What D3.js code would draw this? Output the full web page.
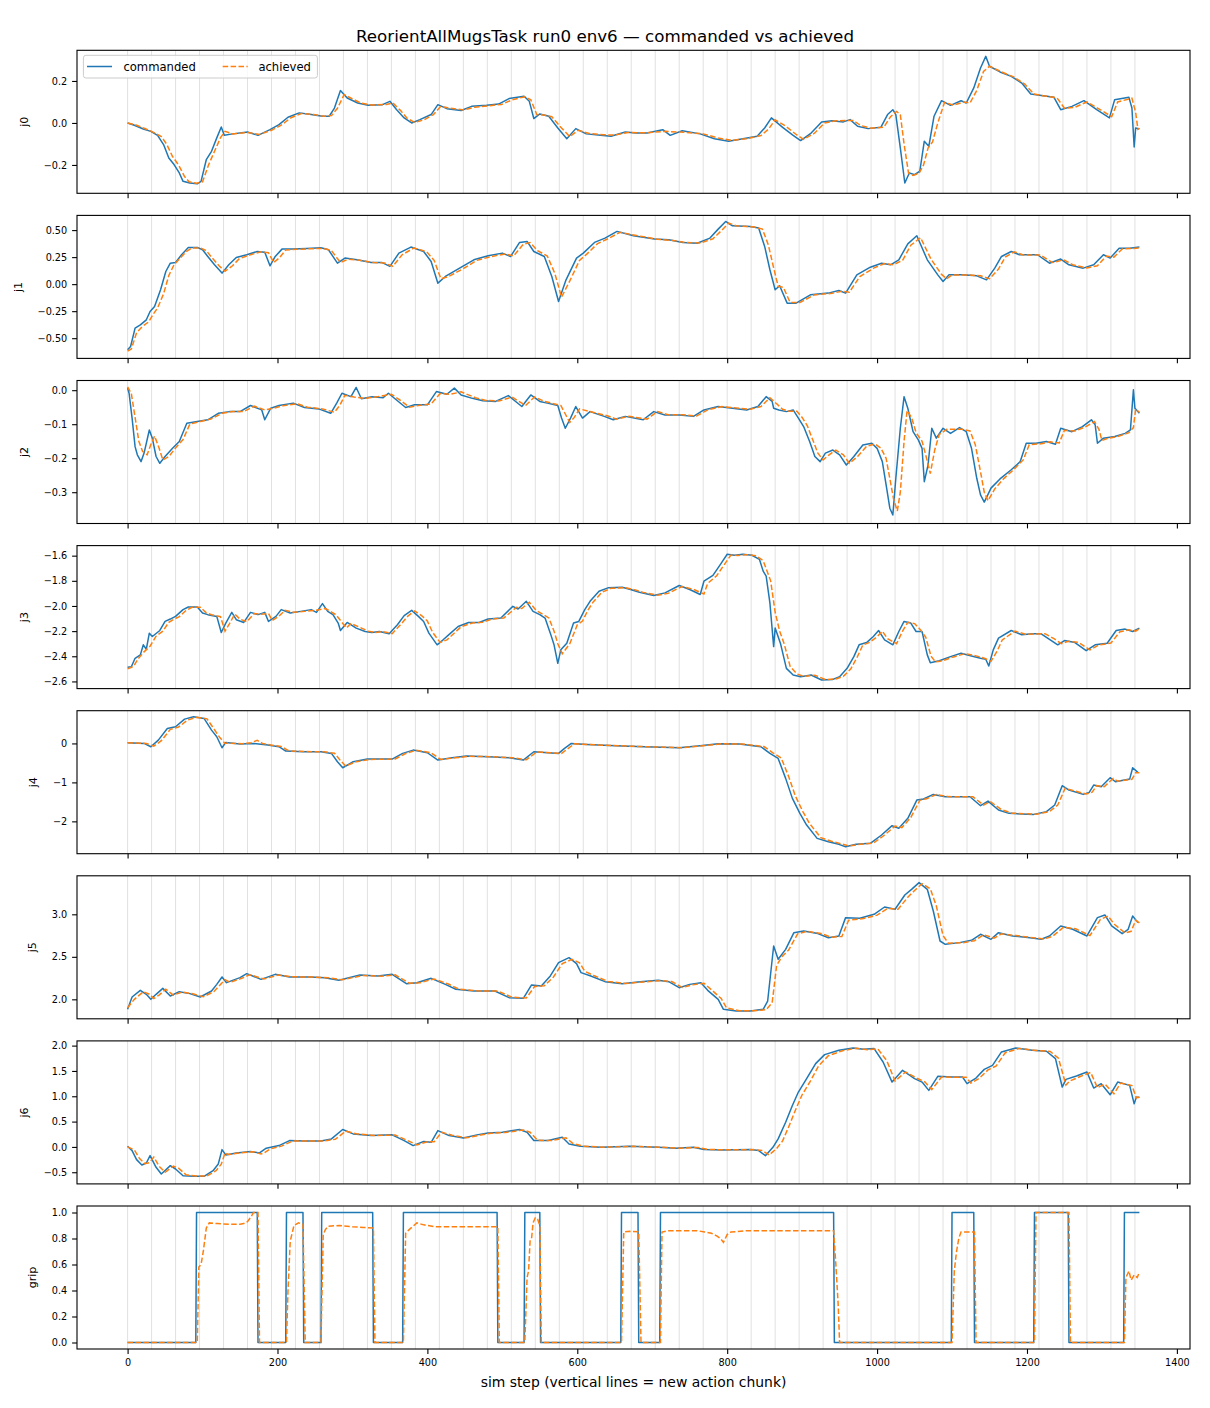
<!DOCTYPE html>
<html><head><meta charset="utf-8">
<script src="https://cdn.jsdelivr.net/npm/d3@7"></script>
<style>body{margin:0;background:#fff}text{font-family:"DejaVu Sans",sans-serif}</style>
</head><body>
<svg id="c" width="1210" height="1408"></svg>
<script>
// ---------- data (sim step, value) ----------
const title = "ReorientAllMugsTask run0 env6 — commanded vs achieved";
const xLabel = "sim step (vertical lines = new action chunk)";
const seriesNames = ["commanded", "achieved"];
const jointNames = ["j0","j1","j2","j3","j4","j5","j6","grip"];
const xTicks = [0,200,400,600,800,1000,1200,1400];
const chunkStarts = [0,32,64,96,128,160,192,224,256,288,320,352,384,416,448,480,512,544,576,608,640,672,704,736,768,800,832,864,896,928,960,992,1024,1056,1088,1120,1152,1184,1216,1248,1280,1312,1344];

const j0_cmd = [[0,0.0],[9,-0.011],[21,-0.029],[31,-0.04],[40,-0.059],[48,-0.103],[55,-0.167],[62,-0.198],[69,-0.238],[74,-0.278],[83,-0.286],[93,-0.29],[98,-0.278],[105,-0.175],[112,-0.135],[119,-0.071],[125,-0.019],[129,-0.059],[140,-0.052],[160,-0.043],[174,-0.059],[190,-0.032],[202,-0.008],[214,0.027],[229,0.048],[245,0.04],[260,0.032],[269,0.032],[276,0.071],[284,0.154],[293,0.119],[307,0.095],[321,0.084],[340,0.087],[350,0.103],[359,0.063],[369,0.024],[379,0.0],[390,0.016],[405,0.04],[414,0.087],[426,0.068],[445,0.059],[459,0.079],[479,0.084],[495,0.09],[509,0.116],[529,0.127],[536,0.103],[542,0.021],[550,0.043],[562,0.032],[574,-0.024],[586,-0.075],[598,-0.027],[612,-0.052],[631,-0.059],[645,-0.063],[664,-0.043],[678,-0.048],[693,-0.048],[714,-0.032],[724,-0.059],[740,-0.037],[764,-0.052],[783,-0.075],[802,-0.087],[821,-0.075],[840,-0.063],[850,-0.024],[859,0.024],[874,-0.021],[888,-0.059],[898,-0.084],[912,-0.048],[926,0.005],[940,0.011],[955,0.005],[964,0.016],[974,-0.016],[988,-0.027],[1005,-0.021],[1014,0.04],[1021,0.063],[1025,0.04],[1031,-0.119],[1037,-0.286],[1043,-0.238],[1050,-0.246],[1057,-0.23],[1063,-0.087],[1069,-0.111],[1076,0.032],[1086,0.106],[1098,0.084],[1112,0.106],[1119,0.095],[1129,0.167],[1138,0.262],[1145,0.317],[1150,0.27],[1164,0.243],[1179,0.222],[1193,0.19],[1205,0.138],[1217,0.132],[1236,0.122],[1245,0.063],[1260,0.079],[1276,0.106],[1293,0.063],[1310,0.024],[1317,0.111],[1336,0.122],[1340,0.071],[1343,-0.114],[1345,-0.024],[1350,-0.029]];
const j0_ach = [[0,0.0],[10,-0.008],[22,-0.025],[32,-0.04],[45,-0.065],[52,-0.1],[60,-0.16],[68,-0.2],[76,-0.255],[82,-0.28],[92,-0.287],[100,-0.28],[108,-0.2],[116,-0.135],[124,-0.07],[130,-0.04],[140,-0.052],[160,-0.045],[176,-0.055],[192,-0.035],[205,-0.01],[218,0.025],[232,0.045],[248,0.04],[262,0.032],[272,0.035],[280,0.07],[289,0.135],[297,0.12],[311,0.095],[325,0.085],[345,0.088],[354,0.095],[364,0.06],[373,0.022],[383,0.003],[395,0.014],[408,0.04],[418,0.08],[430,0.07],[449,0.062],[463,0.075],[482,0.082],[499,0.088],[513,0.11],[530,0.125],[538,0.11],[546,0.04],[555,0.038],[566,0.03],[578,-0.02],[590,-0.065],[601,-0.035],[616,-0.05],[635,-0.056],[650,-0.058],[668,-0.045],[690,-0.047],[718,-0.04],[745,-0.045],[768,-0.052],[788,-0.072],[806,-0.083],[826,-0.075],[845,-0.06],[855,-0.03],[864,0.015],[878,-0.015],[892,-0.055],[902,-0.078],[916,-0.05],[930,0.0],[945,0.01],[968,0.012],[978,-0.012],[992,-0.025],[1009,-0.02],[1018,0.03],[1026,0.055],[1031,0.04],[1036,-0.1],[1042,-0.24],[1048,-0.25],[1056,-0.24],[1062,-0.2],[1068,-0.12],[1074,-0.09],[1081,0.0],[1090,0.098],[1102,0.085],[1116,0.1],[1124,0.095],[1133,0.155],[1142,0.245],[1150,0.27],[1168,0.24],[1183,0.218],[1197,0.185],[1209,0.138],[1221,0.13],[1240,0.12],[1250,0.07],[1264,0.075],[1280,0.1],[1297,0.065],[1313,0.03],[1321,0.1],[1340,0.118],[1345,0.05],[1348,-0.03],[1350,-0.025]];

const j1_cmd = [[0,-0.608],[4,-0.577],[10,-0.407],[17,-0.377],[25,-0.33],[30,-0.253],[36,-0.207],[44,-0.052],[51,0.117],[57,0.194],[64,0.201],[72,0.272],[81,0.34],[93,0.34],[100,0.318],[107,0.256],[116,0.179],[126,0.102],[135,0.179],[145,0.247],[159,0.272],[173,0.302],[183,0.296],[190,0.17],[197,0.256],[206,0.324],[220,0.324],[239,0.33],[258,0.336],[268,0.318],[280,0.194],[290,0.241],[306,0.225],[325,0.201],[339,0.201],[350,0.164],[362,0.287],[378,0.343],[395,0.302],[405,0.21],[414,0.009],[424,0.071],[443,0.148],[462,0.225],[481,0.262],[500,0.287],[511,0.256],[523,0.386],[533,0.395],[542,0.302],[556,0.256],[566,0.071],[575,-0.16],[585,0.04],[599,0.241],[608,0.287],[623,0.386],[637,0.426],[653,0.488],[675,0.448],[703,0.417],[722,0.41],[741,0.386],[760,0.379],[777,0.426],[788,0.509],[798,0.58],[807,0.54],[831,0.534],[842,0.519],[850,0.349],[857,0.133],[864,-0.052],[870,-0.015],[880,-0.176],[892,-0.176],[911,-0.099],[935,-0.083],[949,-0.059],[958,-0.083],[973,0.086],[991,0.157],[1006,0.194],[1018,0.179],[1029,0.225],[1041,0.373],[1053,0.448],[1067,0.225],[1081,0.086],[1088,0.025],[1096,0.086],[1114,0.086],[1133,0.077],[1146,0.04],[1157,0.148],[1166,0.256],[1179,0.302],[1190,0.272],[1214,0.272],[1230,0.194],[1245,0.232],[1256,0.179],[1275,0.148],[1289,0.179],[1302,0.272],[1311,0.241],[1323,0.333],[1337,0.333],[1350,0.343]];
const j1_ach = [[0,-0.62],[5,-0.6],[12,-0.45],[20,-0.39],[28,-0.35],[34,-0.28],[40,-0.22],[48,-0.09],[55,0.08],[62,0.18],[70,0.24],[78,0.3],[86,0.335],[97,0.335],[105,0.31],[112,0.25],[122,0.17],[130,0.12],[140,0.17],[149,0.235],[163,0.27],[178,0.3],[188,0.29],[195,0.2],[202,0.24],[211,0.315],[225,0.322],[245,0.328],[262,0.33],[272,0.31],[284,0.2],[294,0.23],[310,0.22],[328,0.2],[343,0.195],[354,0.165],[366,0.27],[382,0.335],[399,0.3],[409,0.22],[418,0.05],[428,0.07],[447,0.14],[466,0.22],[485,0.255],[504,0.28],[515,0.26],[528,0.37],[537,0.385],[547,0.31],[560,0.26],[570,0.1],[579,-0.12],[590,0.03],[603,0.22],[613,0.28],[627,0.375],[641,0.42],[657,0.48],[679,0.45],[707,0.415],[726,0.405],[745,0.385],[764,0.38],[781,0.42],[793,0.5],[802,0.565],[812,0.54],[835,0.53],[847,0.51],[855,0.36],[862,0.15],[868,-0.02],[875,-0.03],[884,-0.17],[897,-0.17],[916,-0.1],[940,-0.085],[953,-0.065],[963,-0.075],[977,0.07],[996,0.15],[1010,0.19],[1022,0.18],[1034,0.22],[1045,0.36],[1058,0.43],[1072,0.23],[1086,0.09],[1093,0.05],[1100,0.085],[1119,0.085],[1138,0.078],[1150,0.05],[1162,0.14],[1171,0.25],[1183,0.3],[1195,0.27],[1218,0.27],[1234,0.2],[1249,0.225],[1261,0.18],[1280,0.15],[1294,0.17],[1306,0.26],[1316,0.25],[1327,0.325],[1341,0.33],[1350,0.335]];

const j2_cmd = [[0,0.006],[2,-0.009],[6,-0.082],[10,-0.166],[13,-0.19],[18,-0.21],[22,-0.185],[29,-0.117],[33,-0.141],[38,-0.195],[43,-0.215],[50,-0.195],[60,-0.171],[69,-0.151],[79,-0.097],[93,-0.092],[107,-0.087],[121,-0.068],[136,-0.063],[150,-0.063],[164,-0.045],[179,-0.058],[183,-0.087],[191,-0.053],[202,-0.045],[221,-0.038],[236,-0.051],[255,-0.055],[271,-0.068],[279,-0.038],[286,-0.009],[298,-0.019],[305,0.008],[312,-0.025],[326,-0.019],[341,-0.022],[348,-0.009],[360,-0.031],[371,-0.051],[383,-0.043],[400,-0.043],[412,-0.004],[426,-0.012],[436,0.006],[445,-0.014],[460,-0.024],[474,-0.031],[491,-0.033],[508,-0.016],[526,-0.048],[538,-0.014],[550,-0.033],[560,-0.038],[574,-0.045],[579,-0.082],[584,-0.112],[591,-0.082],[598,-0.048],[607,-0.082],[617,-0.063],[636,-0.077],[648,-0.087],[664,-0.077],[688,-0.087],[702,-0.063],[717,-0.073],[736,-0.073],[755,-0.077],[769,-0.058],[788,-0.048],[807,-0.053],[826,-0.058],[841,-0.048],[852,-0.019],[860,-0.033],[862,-0.053],[869,-0.058],[879,-0.063],[888,-0.058],[895,-0.082],[902,-0.107],[910,-0.151],[917,-0.195],[924,-0.21],[931,-0.185],[941,-0.176],[950,-0.19],[959,-0.22],[969,-0.195],[981,-0.161],[993,-0.156],[1000,-0.171],[1007,-0.21],[1012,-0.278],[1017,-0.347],[1021,-0.367],[1025,-0.259],[1031,-0.112],[1036,-0.019],[1041,-0.053],[1048,-0.122],[1055,-0.146],[1060,-0.171],[1063,-0.269],[1068,-0.22],[1073,-0.112],[1079,-0.141],[1088,-0.112],[1098,-0.127],[1110,-0.11],[1119,-0.122],[1126,-0.171],[1133,-0.259],[1138,-0.308],[1143,-0.329],[1152,-0.288],[1164,-0.261],[1179,-0.234],[1191,-0.21],[1199,-0.156],[1212,-0.156],[1226,-0.151],[1238,-0.159],[1245,-0.112],[1260,-0.122],[1274,-0.107],[1286,-0.087],[1291,-0.102],[1294,-0.156],[1302,-0.141],[1317,-0.136],[1331,-0.127],[1338,-0.117],[1342,0.001],[1344,-0.053],[1350,-0.068]];
const j2_ach = [[0,0.01],[5,-0.01],[10,-0.08],[15,-0.15],[20,-0.18],[26,-0.19],[31,-0.16],[36,-0.135],[42,-0.17],[47,-0.205],[55,-0.195],[64,-0.17],[74,-0.145],[83,-0.1],[97,-0.092],[111,-0.085],[126,-0.068],[140,-0.063],[155,-0.063],[169,-0.047],[183,-0.058],[195,-0.053],[207,-0.046],[226,-0.04],[240,-0.05],[260,-0.055],[276,-0.065],[283,-0.045],[290,-0.015],[302,-0.02],[317,-0.024],[331,-0.02],[352,-0.012],[364,-0.03],[376,-0.05],[388,-0.045],[405,-0.04],[417,-0.01],[431,-0.012],[445,-0.005],[464,-0.022],[478,-0.03],[495,-0.032],[513,-0.02],[531,-0.045],[543,-0.02],[555,-0.032],[578,-0.045],[584,-0.07],[590,-0.095],[596,-0.08],[603,-0.055],[621,-0.065],[640,-0.075],[652,-0.085],[669,-0.077],[693,-0.085],[707,-0.063],[721,-0.072],[740,-0.072],[759,-0.076],[774,-0.058],[793,-0.048],[812,-0.052],[831,-0.056],[845,-0.048],[857,-0.022],[866,-0.04],[874,-0.056],[883,-0.062],[893,-0.062],[900,-0.08],[907,-0.105],[914,-0.145],[921,-0.185],[928,-0.205],[936,-0.19],[945,-0.176],[955,-0.19],[963,-0.215],[974,-0.195],[986,-0.165],[997,-0.158],[1005,-0.17],[1012,-0.2],[1017,-0.26],[1022,-0.32],[1027,-0.355],[1031,-0.3],[1036,-0.15],[1040,-0.06],[1046,-0.08],[1052,-0.125],[1060,-0.15],[1066,-0.2],[1071,-0.245],[1077,-0.175],[1083,-0.13],[1093,-0.115],[1114,-0.115],[1124,-0.12],[1131,-0.16],[1138,-0.24],[1143,-0.3],[1148,-0.325],[1157,-0.29],[1169,-0.26],[1183,-0.232],[1195,-0.205],[1203,-0.16],[1217,-0.158],[1231,-0.152],[1243,-0.155],[1250,-0.118],[1264,-0.12],[1278,-0.108],[1290,-0.092],[1296,-0.115],[1300,-0.148],[1307,-0.142],[1321,-0.136],[1336,-0.125],[1342,-0.11],[1345,-0.055],[1350,-0.065]];

const j3_cmd = [[0,-2.488],[5,-2.483],[10,-2.416],[17,-2.389],[21,-2.309],[25,-2.344],[29,-2.216],[33,-2.243],[43,-2.195],[50,-2.123],[57,-2.104],[64,-2.083],[74,-2.029],[81,-2.008],[93,-2.008],[100,-2.056],[107,-2.069],[119,-2.083],[125,-2.211],[131,-2.136],[139,-2.051],[145,-2.109],[155,-2.131],[164,-2.051],[174,-2.069],[183,-2.051],[188,-2.123],[198,-2.083],[205,-2.029],[217,-2.056],[231,-2.043],[245,-2.029],[252,-2.051],[260,-1.981],[267,-2.043],[274,-2.069],[281,-2.136],[284,-2.195],[293,-2.131],[305,-2.176],[317,-2.203],[326,-2.211],[336,-2.203],[349,-2.221],[360,-2.149],[369,-2.077],[379,-2.035],[388,-2.083],[395,-2.123],[402,-2.216],[413,-2.309],[421,-2.269],[431,-2.216],[441,-2.163],[455,-2.131],[469,-2.131],[481,-2.104],[498,-2.096],[514,-2.003],[521,-2.024],[532,-1.963],[541,-2.043],[550,-2.069],[557,-2.096],[564,-2.216],[569,-2.309],[574,-2.456],[578,-2.349],[586,-2.296],[595,-2.136],[602,-2.123],[610,-2.029],[617,-1.963],[629,-1.883],[641,-1.856],[660,-1.851],[671,-1.869],[683,-1.891],[702,-1.917],[717,-1.896],[736,-1.837],[750,-1.869],[764,-1.909],[769,-1.803],[781,-1.757],[791,-1.669],[800,-1.589],[810,-1.597],[821,-1.589],[833,-1.597],[843,-1.629],[848,-1.723],[852,-1.763],[857,-1.976],[862,-2.323],[864,-2.176],[871,-2.296],[879,-2.496],[888,-2.549],[898,-2.563],[912,-2.549],[926,-2.589],[941,-2.584],[950,-2.563],[960,-2.496],[969,-2.403],[976,-2.309],[986,-2.291],[995,-2.243],[1002,-2.195],[1010,-2.269],[1021,-2.309],[1029,-2.203],[1036,-2.123],[1045,-2.136],[1052,-2.203],[1060,-2.203],[1067,-2.389],[1071,-2.451],[1083,-2.435],[1098,-2.403],[1112,-2.376],[1126,-2.397],[1138,-2.416],[1145,-2.424],[1149,-2.477],[1155,-2.349],[1162,-2.256],[1179,-2.195],[1193,-2.229],[1207,-2.221],[1219,-2.221],[1231,-2.269],[1241,-2.309],[1250,-2.275],[1264,-2.291],[1279,-2.355],[1291,-2.309],[1307,-2.296],[1319,-2.195],[1331,-2.184],[1341,-2.203],[1350,-2.176]];
const j3_ach = [[0,-2.5],[8,-2.48],[14,-2.42],[21,-2.37],[30,-2.32],[38,-2.24],[47,-2.2],[55,-2.13],[62,-2.105],[69,-2.085],[78,-2.035],[86,-2.01],[97,-2.01],[105,-2.055],[112,-2.07],[124,-2.085],[130,-2.2],[136,-2.14],[143,-2.065],[150,-2.105],[159,-2.125],[169,-2.06],[178,-2.066],[188,-2.06],[193,-2.115],[202,-2.08],[210,-2.035],[221,-2.05],[236,-2.043],[250,-2.035],[264,-2.02],[271,-2.045],[278,-2.07],[286,-2.13],[292,-2.175],[298,-2.14],[310,-2.17],[321,-2.2],[331,-2.21],[340,-2.203],[353,-2.22],[364,-2.15],[374,-2.08],[383,-2.04],[393,-2.08],[400,-2.12],[407,-2.21],[417,-2.29],[426,-2.27],[436,-2.215],[445,-2.165],[460,-2.135],[474,-2.13],[486,-2.105],[502,-2.095],[519,-2.01],[526,-2.02],[536,-1.97],[545,-2.035],[555,-2.07],[562,-2.095],[569,-2.2],[574,-2.3],[580,-2.38],[590,-2.3],[600,-2.15],[607,-2.12],[614,-2.035],[621,-1.97],[633,-1.89],[645,-1.86],[664,-1.855],[676,-1.87],[688,-1.892],[707,-1.915],[721,-1.9],[740,-1.845],[755,-1.868],[769,-1.905],[774,-1.82],[786,-1.76],[795,-1.68],[805,-1.595],[814,-1.598],[826,-1.592],[838,-1.6],[848,-1.64],[853,-1.72],[858,-1.8],[864,-2.05],[870,-2.2],[876,-2.3],[884,-2.48],[893,-2.54],[902,-2.56],[917,-2.55],[931,-2.585],[945,-2.58],[955,-2.56],[965,-2.5],[974,-2.4],[981,-2.31],[990,-2.29],[1000,-2.245],[1007,-2.2],[1014,-2.26],[1026,-2.3],[1034,-2.2],[1041,-2.13],[1050,-2.14],[1058,-2.19],[1065,-2.25],[1072,-2.4],[1078,-2.445],[1088,-2.435],[1102,-2.405],[1117,-2.38],[1131,-2.395],[1143,-2.415],[1152,-2.44],[1160,-2.36],[1167,-2.27],[1184,-2.2],[1198,-2.225],[1212,-2.222],[1224,-2.22],[1236,-2.26],[1246,-2.3],[1255,-2.28],[1269,-2.29],[1284,-2.35],[1296,-2.31],[1312,-2.295],[1324,-2.205],[1336,-2.19],[1345,-2.2],[1350,-2.18]];

const j4_cmd = [[0,0.017],[22,0.0],[31,-0.085],[41,0.085],[53,0.385],[64,0.427],[76,0.624],[88,0.684],[102,0.641],[112,0.342],[119,0.171],[126,-0.111],[131,0.026],[150,-0.017],[168,0.0],[187,-0.043],[202,-0.085],[211,-0.197],[235,-0.214],[258,-0.214],[272,-0.256],[280,-0.47],[287,-0.624],[301,-0.47],[320,-0.402],[353,-0.402],[367,-0.256],[381,-0.171],[400,-0.239],[414,-0.427],[433,-0.368],[452,-0.325],[481,-0.342],[509,-0.368],[528,-0.427],[542,-0.214],[561,-0.239],[575,-0.256],[583,-0.128],[592,0.0],[613,-0.026],[651,-0.06],[689,-0.085],[736,-0.111],[764,-0.06],[788,-0.009],[816,-0.017],[845,-0.085],[857,-0.256],[868,-0.385],[878,-0.897],[887,-1.41],[897,-1.795],[906,-2.094],[920,-2.436],[935,-2.521],[949,-2.59],[958,-2.65],[972,-2.59],[991,-2.564],[1006,-2.35],[1020,-2.111],[1029,-2.179],[1041,-1.923],[1053,-1.453],[1062,-1.427],[1075,-1.308],[1091,-1.368],[1124,-1.368],[1138,-1.598],[1148,-1.479],[1162,-1.709],[1176,-1.795],[1209,-1.821],[1226,-1.752],[1237,-1.581],[1247,-1.085],[1256,-1.197],[1275,-1.308],[1283,-1.256],[1289,-1.068],[1299,-1.111],[1311,-0.88],[1318,-0.983],[1337,-0.915],[1341,-0.624],[1348,-0.744]];
const j4_ach = [[0,0.02],[25,0.0],[35,-0.07],[45,0.07],[57,0.36],[68,0.42],[80,0.6],[92,0.67],[106,0.63],[115,0.38],[123,0.15],[130,0.0],[135,0.01],[153,-0.01],[165,0.02],[173,0.08],[180,0.0],[191,-0.04],[205,-0.08],[215,-0.19],[238,-0.21],[262,-0.215],[276,-0.25],[284,-0.44],[291,-0.58],[305,-0.47],[324,-0.41],[357,-0.4],[371,-0.26],[385,-0.175],[404,-0.235],[418,-0.41],[437,-0.37],[456,-0.33],[485,-0.34],[513,-0.365],[532,-0.42],[546,-0.22],[565,-0.24],[579,-0.255],[587,-0.14],[596,-0.01],[617,-0.03],[655,-0.06],[693,-0.085],[740,-0.11],[768,-0.06],[792,-0.01],[820,-0.015],[849,-0.08],[861,-0.24],[872,-0.37],[882,-0.85],[891,-1.35],[901,-1.75],[910,-2.06],[925,-2.42],[939,-2.51],[953,-2.58],[962,-2.63],[977,-2.59],[995,-2.56],[1010,-2.35],[1024,-2.12],[1033,-2.16],[1045,-1.9],[1057,-1.46],[1066,-1.42],[1079,-1.31],[1095,-1.365],[1128,-1.37],[1142,-1.58],[1151,-1.49],[1166,-1.7],[1180,-1.79],[1213,-1.815],[1230,-1.75],[1241,-1.58],[1251,-1.15],[1260,-1.2],[1279,-1.3],[1287,-1.25],[1293,-1.08],[1303,-1.11],[1315,-0.9],[1321,-0.97],[1340,-0.92],[1345,-0.75],[1350,-0.75]];

const j5_cmd = [[0,1.882],[6,2.027],[17,2.106],[25,2.059],[31,2.0],[38,2.059],[47,2.129],[57,2.039],[69,2.09],[83,2.067],[97,2.027],[112,2.098],[119,2.176],[126,2.263],[132,2.196],[150,2.255],[159,2.302],[178,2.235],[197,2.294],[216,2.263],[244,2.263],[263,2.255],[282,2.224],[310,2.286],[334,2.275],[353,2.294],[372,2.184],[386,2.196],[405,2.247],[424,2.176],[438,2.118],[462,2.098],[490,2.098],[509,2.02],[528,2.012],[539,2.169],[552,2.157],[564,2.275],[575,2.431],[589,2.49],[599,2.42],[605,2.314],[618,2.275],[637,2.208],[660,2.184],[684,2.208],[708,2.224],[722,2.208],[736,2.137],[750,2.176],[765,2.196],[774,2.106],[788,2.0],[795,1.882],[812,1.863],[831,1.863],[848,1.882],[854,1.98],[862,2.627],[868,2.471],[878,2.588],[889,2.784],[902,2.804],[921,2.773],[935,2.725],[949,2.745],[958,2.961],[977,2.953],[996,3.0],[1010,3.086],[1024,3.059],[1037,3.227],[1046,3.294],[1056,3.373],[1067,3.294],[1075,3.039],[1084,2.686],[1091,2.647],[1110,2.667],[1126,2.694],[1138,2.765],[1152,2.706],[1162,2.784],[1181,2.745],[1204,2.725],[1219,2.706],[1230,2.745],[1245,2.863],[1261,2.824],[1280,2.745],[1294,2.961],[1304,2.992],[1313,2.863],[1327,2.773],[1335,2.824],[1341,2.98],[1348,2.902]];
const j5_ach = [[0,1.9],[9,2.0],[21,2.09],[29,2.06],[35,2.01],[42,2.05],[51,2.12],[61,2.05],[73,2.085],[87,2.065],[101,2.03],[115,2.09],[123,2.165],[130,2.23],[137,2.2],[153,2.25],[163,2.29],[182,2.24],[201,2.285],[220,2.265],[248,2.262],[267,2.255],[286,2.23],[314,2.28],[338,2.272],[357,2.288],[376,2.19],[390,2.195],[409,2.24],[428,2.18],[442,2.12],[466,2.1],[494,2.097],[513,2.025],[532,2.015],[543,2.15],[556,2.16],[568,2.26],[580,2.42],[593,2.47],[603,2.43],[610,2.33],[622,2.28],[641,2.21],[665,2.186],[689,2.205],[712,2.22],[726,2.21],[740,2.14],[754,2.17],[769,2.19],[778,2.12],[792,2.01],[799,1.9],[816,1.865],[835,1.865],[852,1.878],[860,1.96],[866,2.4],[873,2.5],[882,2.58],[894,2.77],[906,2.8],[925,2.775],[939,2.73],[953,2.74],[962,2.93],[982,2.95],[1000,2.99],[1014,3.07],[1028,3.06],[1041,3.2],[1050,3.28],[1060,3.36],[1071,3.3],[1079,3.1],[1088,2.75],[1095,2.66],[1114,2.665],[1130,2.69],[1142,2.76],[1156,2.72],[1166,2.77],[1185,2.75],[1208,2.725],[1223,2.71],[1234,2.74],[1249,2.85],[1265,2.83],[1284,2.75],[1298,2.94],[1308,2.98],[1317,2.88],[1331,2.78],[1339,2.8],[1345,2.93],[1350,2.9]];

const j6_cmd = [[0,0.013],[6,-0.073],[12,-0.251],[19,-0.356],[25,-0.317],[30,-0.172],[38,-0.403],[45,-0.535],[57,-0.37],[64,-0.436],[74,-0.568],[88,-0.581],[102,-0.581],[114,-0.469],[121,-0.337],[126,-0.053],[131,-0.158],[145,-0.119],[164,-0.092],[176,-0.119],[185,-0.026],[202,0.026],[216,0.125],[235,0.119],[258,0.119],[272,0.158],[287,0.343],[301,0.257],[325,0.224],[353,0.238],[369,0.125],[381,0.026],[395,0.106],[405,0.092],[414,0.323],[429,0.224],[448,0.178],[466,0.238],[481,0.277],[500,0.29],[523,0.343],[533,0.29],[542,0.125],[561,0.125],[580,0.191],[589,0.059],[604,0.013],[632,-0.007],[670,0.013],[708,-0.007],[731,-0.026],[755,-0.007],[769,-0.053],[793,-0.059],[831,-0.053],[842,-0.073],[851,-0.172],[861,-0.007],[868,0.158],[878,0.488],[887,0.818],[895,1.083],[906,1.347],[918,1.644],[930,1.822],[949,1.908],[968,1.954],[982,1.927],[996,1.941],[1008,1.677],[1020,1.28],[1034,1.512],[1050,1.347],[1060,1.28],[1069,1.116],[1081,1.393],[1100,1.38],[1114,1.38],[1120,1.248],[1132,1.36],[1143,1.531],[1154,1.611],[1166,1.875],[1185,1.954],[1207,1.908],[1226,1.888],[1238,1.743],[1247,1.182],[1252,1.333],[1266,1.399],[1280,1.479],[1289,1.162],[1299,1.248],[1311,1.03],[1321,1.281],[1337,1.215],[1343,0.851],[1346,0.983],[1350,0.983]];
const j6_ach = [[0,0.0],[9,-0.06],[16,-0.23],[23,-0.33],[29,-0.31],[35,-0.2],[42,-0.38],[50,-0.5],[61,-0.38],[68,-0.42],[78,-0.55],[92,-0.575],[106,-0.575],[118,-0.47],[125,-0.34],[130,-0.12],[135,-0.15],[149,-0.12],[168,-0.095],[178,-0.14],[182,-0.12],[190,-0.04],[206,0.02],[220,0.115],[239,0.118],[262,0.118],[277,0.15],[291,0.31],[305,0.26],[329,0.225],[357,0.235],[373,0.13],[386,0.04],[400,0.1],[409,0.1],[419,0.29],[433,0.23],[452,0.18],[471,0.235],[485,0.27],[504,0.285],[528,0.335],[537,0.29],[547,0.13],[566,0.125],[585,0.18],[594,0.07],[608,0.015],[637,-0.005],[675,0.012],[712,-0.005],[736,-0.025],[760,-0.01],[774,-0.05],[798,-0.058],[835,-0.053],[847,-0.07],[856,-0.16],[866,-0.03],[874,0.12],[883,0.43],[892,0.76],[900,1.03],[911,1.3],[922,1.6],[935,1.8],[954,1.9],[972,1.95],[987,1.92],[1001,1.935],[1013,1.7],[1024,1.3],[1038,1.48],[1054,1.35],[1064,1.28],[1073,1.13],[1086,1.38],[1105,1.375],[1119,1.375],[1125,1.26],[1136,1.35],[1148,1.52],[1159,1.6],[1171,1.86],[1190,1.945],[1212,1.905],[1231,1.885],[1242,1.75],[1252,1.22],[1257,1.3],[1271,1.39],[1285,1.47],[1294,1.17],[1304,1.24],[1316,1.05],[1325,1.26],[1340,1.21],[1346,0.97],[1350,0.98]];

const grip_cmd = [[0,0],[91,0],[92,1],[173,1],[174,0],[211,0],[212,1],[234,1],[235,0],[258,0],[259,1],[327,1],[328,0],[367,0],[368,1],[493,1],[494,0],[529,0],[530,1],[550,1],[551,0],[658,0],[659,1],[681,1],[682,0],[710,0],[711,1],[942,1],[943,0],[1099,0],[1100,1],[1129,1],[1130,0],[1209,0],[1210,1],[1255,1],[1256,0],[1329,0],[1330,1],[1350,1]];
const grip_ach = [[0,0],[93,0],[95,0.58],[98,0.6],[101,0.7],[105,0.88],[109,0.92],[120,0.915],[135,0.91],[150,0.91],[155,0.915],[160,0.93],[165,0.97],[168,1.0],[174,1.0],[176,0],[212,0],[214,0.4],[217,0.78],[222,0.9],[228,0.92],[234,0.91],[237,0],[258,0],[261,0.83],[264,0.87],[268,0.895],[283,0.9],[300,0.89],[315,0.885],[328,0.88],[330,0],[368,0],[371,0.84],[376,0.87],[380,0.89],[386,0.92],[395,0.905],[410,0.89],[440,0.89],[470,0.89],[494,0.89],[496,0],[530,0],[533,0.5],[535,0.55],[537,0.78],[539,0.8],[541,0.92],[544,0.96],[547,0.95],[550,0.9],[552,0],[659,0],[662,0.85],[670,0.855],[682,0.852],[685,0],[711,0],[713,0.85],[721,0.86],[760,0.86],[770,0.85],[779,0.84],[786,0.82],[791,0.8],[795,0.77],[800,0.83],[805,0.85],[826,0.86],[942,0.86],[945,0.6],[948,0.3],[950,0],[1100,0],[1103,0.55],[1106,0.7],[1109,0.8],[1112,0.85],[1130,0.85],[1132,0],[1210,0],[1212,1.0],[1256,1.0],[1258,0],[1330,0],[1332,0.5],[1336,0.55],[1339,0.48],[1343,0.52],[1347,0.5],[1350,0.54]];

const yTicks = {
  j0:[-0.2,0,0.2], j1:[-0.5,-0.25,0,0.25,0.5], j2:[-0.3,-0.2,-0.1,0],
  j3:[-2.6,-2.4,-2.2,-2.0,-1.8,-1.6], j4:[-2,-1,0], j5:[2.0,2.5,3.0],
  j6:[-0.5,0,0.5,1.0,1.5,2.0], grip:[0,0.2,0.4,0.6,0.8,1.0]
};
const yFormats = {j0:".1f", j1:".2f", j2:".1f", j3:".1f", j4:"d", j5:".1f", j6:".1f", grip:".1f"};
const yDomains = {
  j0:[-0.335,0.346], j1:[-0.687,0.636], j2:[-0.392,0.0285], j3:[-2.657,-1.52],
  j4:[-2.83,0.84], j5:[1.771,3.453], j6:[-0.73,2.093], grip:[-0.05,1.05]
};
const cmdData = {j0:j0_cmd,j1:j1_cmd,j2:j2_cmd,j3:j3_cmd,j4:j4_cmd,j5:j5_cmd,j6:j6_cmd,grip:grip_cmd};
const achData = {j0:j0_ach,j1:j1_ach,j2:j2_ach,j3:j3_ach,j4:j4_ach,j5:j5_ach,j6:j6_ach,grip:grip_ach};

// ---------- drawing ----------
const BLUE = "#1f77b4", ORANGE = "#ff7f0e";
const L = 77, R = 1190, TOP0 = 50.3, PITCH = 165.1, H = 143;
const TICK = 4.9, PAD = 4.9;
const svg = d3.select("#c");
const x = d3.scaleLinear().domain([-67.5, 1417.5]).range([L, R]);
const defs = svg.append("defs");

svg.append("text").attr("x", 605).attr("y", 36).attr("text-anchor","middle")
  .attr("dominant-baseline","central").attr("font-size", 16.7).text(title);

jointNames.forEach((name, i) => {
  const top = TOP0 + PITCH * i;
  const y = d3.scaleLinear().domain(yDomains[name]).range([top + H, top]);
  const g = svg.append("g");
  defs.append("clipPath").attr("id","clip"+i).append("rect")
    .attr("x",L).attr("y",top).attr("width",R-L).attr("height",H);
  const plot = g.append("g").attr("clip-path","url(#clip"+i+")");

  plot.selectAll("line.v").data(chunkStarts).join("line")
    .attr("x1", d=>x(d)).attr("x2", d=>x(d)).attr("y1", top).attr("y2", top+H)
    .attr("stroke","#808080").attr("stroke-opacity",0.3).attr("stroke-width",0.8);

  const line = d3.line().x(d=>x(d[0])).y(d=>y(d[1]));
  plot.append("path").datum(cmdData[name]).attr("d", line)
    .attr("fill","none").attr("stroke",BLUE).attr("stroke-width",1.5)
    .attr("stroke-linejoin","round");
  plot.append("path").datum(achData[name]).attr("d", line)
    .attr("fill","none").attr("stroke",ORANGE).attr("stroke-width",1.5)
    .attr("stroke-dasharray","5.5,2.4");

  // x axis
  const xa = d3.axisBottom(x).tickValues(xTicks).tickSize(TICK).tickPadding(PAD)
    .tickFormat(i === jointNames.length-1 ? d3.format("d") : () => "");
  const gx = g.append("g").attr("transform", `translate(0,${top+H})`).call(xa);
  // y axis
  const ya = d3.axisLeft(y).tickValues(yTicks[name]).tickSize(TICK).tickPadding(PAD)
    .tickFormat(d3.format(yFormats[name]));
  const gy = g.append("g").attr("transform", `translate(${L},0)`).call(ya);
  [gx, gy].forEach(a => {
    a.select(".domain").remove();
    a.selectAll(".tick line").attr("stroke","#000").attr("stroke-width",1.1);
    a.selectAll(".tick text").attr("font-size",9.7).attr("font-family","DejaVu Sans").attr("fill","#000");
  });
  // frame
  g.append("rect").attr("x",L).attr("y",top).attr("width",R-L).attr("height",H)
    .attr("fill","none").attr("stroke","#000").attr("stroke-width",1.1);
  // y label: left of the widest tick label (bbox is in the axis group's own coords)
  const bb = gy.node().getBBox();
  const labelX = L + bb.x - 19;
  svg.append("text").attr("transform", `translate(${labelX},${top + H/2}) rotate(-90)`)
    .attr("text-anchor","middle").attr("dominant-baseline","central")
    .attr("font-size",11.1).text(name);

  if (i === 0) {
    const lg = g.append("g");
    lg.append("rect").attr("x",83.4).attr("y",55.3).attr("width",234).attr("height",22.7)
      .attr("rx",2.5).attr("fill","#fff").attr("fill-opacity",0.8)
      .attr("stroke","#cccccc").attr("stroke-width",1);
    const items = [{x:87, c:BLUE, dash:null, t:seriesNames[0], tx:123.4},
                   {x:222.7, c:ORANGE, dash:"5.5,2.4", t:seriesNames[1], tx:258.4}];
    items.forEach(it => {
      lg.append("line").attr("x1",it.x).attr("x2",it.x+25).attr("y1",66.5).attr("y2",66.5)
        .attr("stroke",it.c).attr("stroke-width",1.5).attr("stroke-dasharray",it.dash);
      lg.append("text").attr("x",it.tx).attr("y",66.5).attr("dominant-baseline","central")
        .attr("font-size",11.6).text(it.t);
    });
  }
});

svg.append("text").attr("x", (L+R)/2).attr("y", 1382).attr("text-anchor","middle")
  .attr("dominant-baseline","central").attr("font-size", 13.9).text(xLabel);
</script>
</body></html>
